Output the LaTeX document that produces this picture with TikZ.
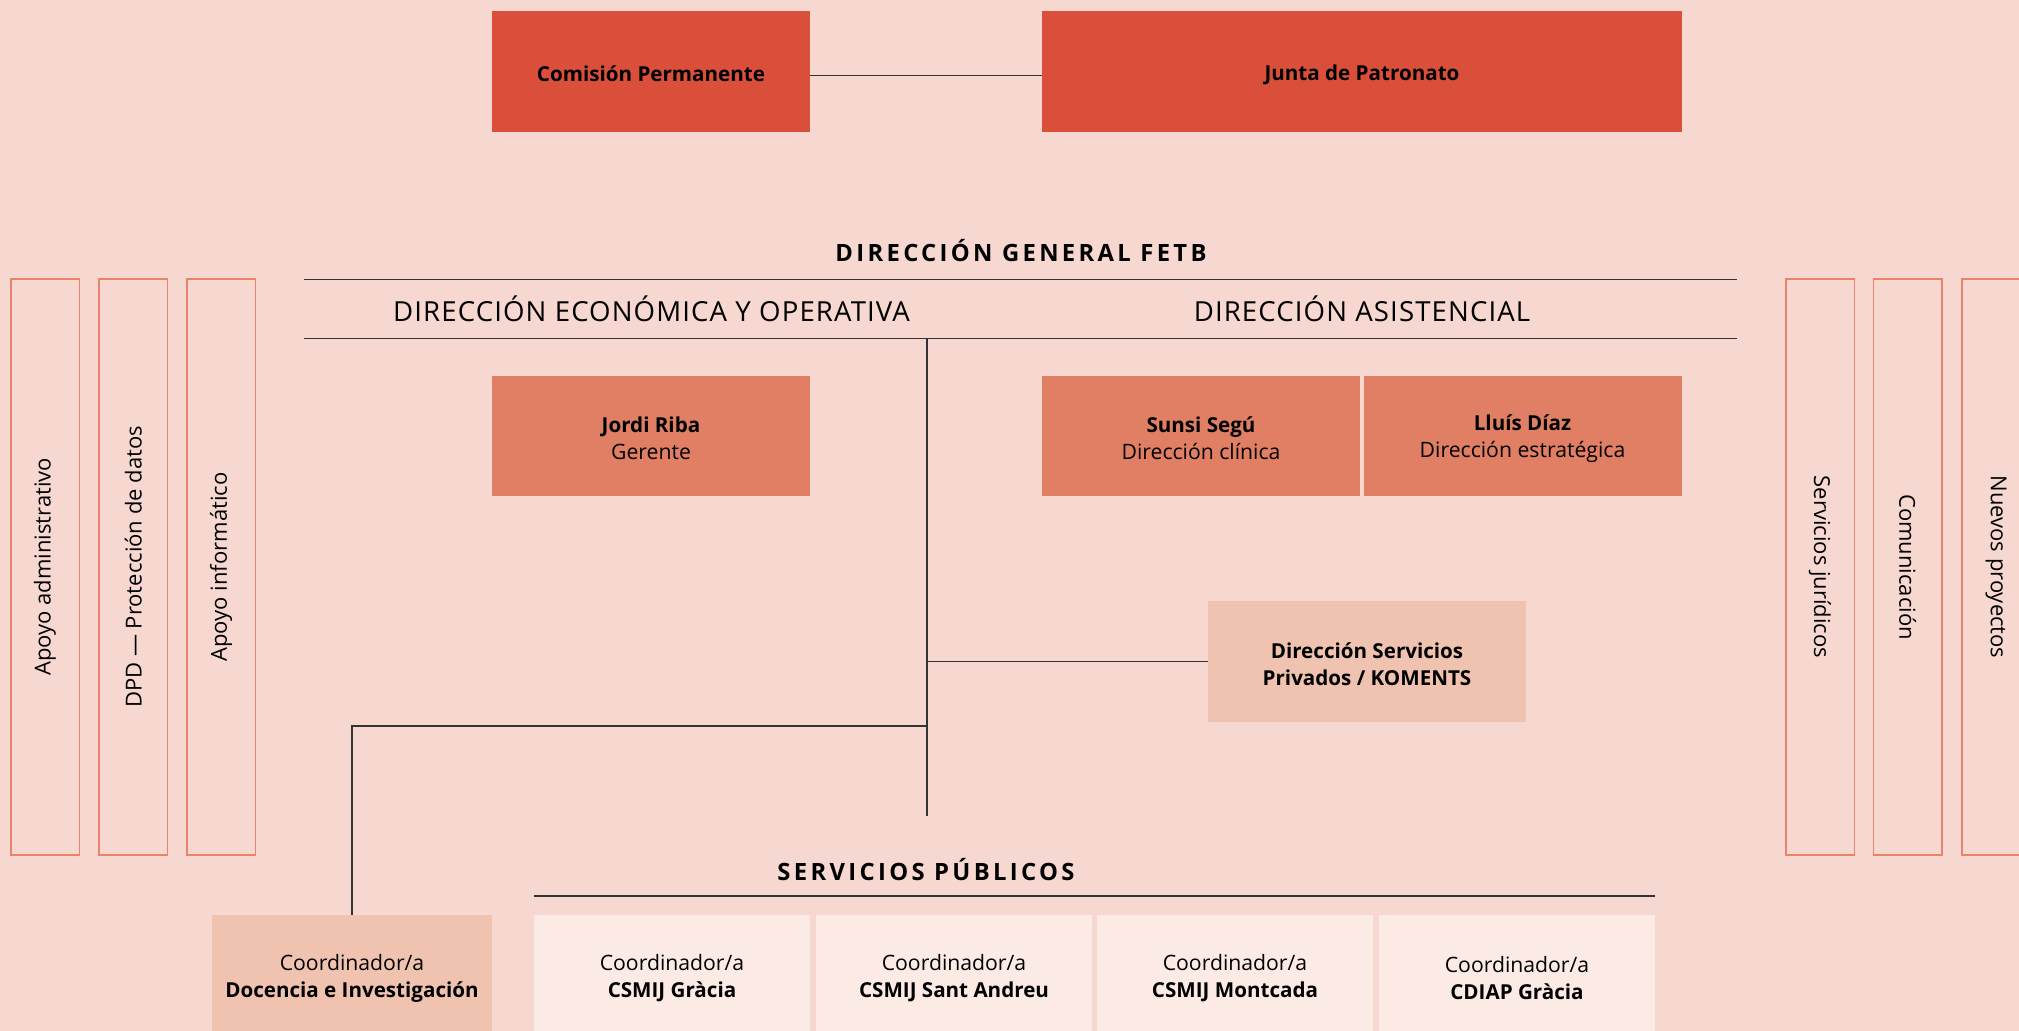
\documentclass[tikz,border=0pt]{standalone}
\usepackage{fontspec}
\setmainfont{Open Sans}
\newfontfamily\spaced[LetterSpace=4]{Open Sans}
\newfontfamily\widespaced[LetterSpace=14]{Open Sans}
\usetikzlibrary{positioning}
\definecolor{bg}{HTML}{F6D8D0}
\definecolor{topred}{HTML}{D94F39}
\definecolor{midred}{HTML}{E07F63}
\definecolor{lightred}{HTML}{F0C2B0}
\definecolor{paler}{HTML}{FCEAE4}
\definecolor{sideline}{HTML}{E8846A}
\definecolor{ink}{HTML}{333333}
\newcommand\tstrut{\rule[-0.7pt]{0pt}{11.5pt}}
\newcommand\bname[1]{{\fontsize{10.3}{13.5}\selectfont\bfseries #1}}

\begin{document}
\begin{tikzpicture}
[x=0.5pt,y=-0.5pt,
 box/.style={shape=rectangle,inner sep=0pt,align=center,
   font=\fontsize{10.6}{13.5}\selectfont},
 topbox/.style={box,fill=topred,minimum height=60.5pt},
 midbox/.style={box,fill=midred,minimum width=159pt,minimum height=60pt},
 privbox/.style={box,fill=lightred,minimum width=159pt,minimum height=60.5pt},
 coordbox/.style={box,fill=paler,minimum width=138pt,minimum height=60.5pt},
 sidebox/.style={box,draw=sideline,line width=0.7pt,minimum width=288pt,minimum height=34.2pt,
   font=\fontsize{11}{13.5}\selectfont},
 heading/.style={font=\fontsize{11.9}{14}\selectfont\widespaced\bfseries},
 subheading/.style={font=\fontsize{13.8}{16}\selectfont\spaced},
 rule/.style={draw=ink,line width=0.7pt},
 link/.style={draw=ink,line width=0.6pt}]

\fill [bg] (0,0) rectangle (2019,1031);
\useasboundingbox (0,0) rectangle (2019,1031);

\draw (651,71.5) node (cp) [topbox,minimum width=159pt] {\tstrut\bname{Comisión Permanente}};
\draw (1362,71.5) node (jp) [topbox,minimum width=320pt] {\tstrut\bname{Junta de Patronato}};
\draw [link] ([yshift=-2.2pt]cp.east) -- ([yshift=-2.2pt]jp.west);

\draw (1021,251) node (dg) [heading] {DIRECCIÓN GENERAL FETB};
\draw [rule] (304,279.5) -- (1737,279.5);
\draw (651.5,309) node (deo) [subheading] {DIRECCIÓN ECONÓMICA Y OPERATIVA};
\draw (1362,309) node (das) [subheading] {DIRECCIÓN ASISTENCIAL};
\draw [rule] (304,338.5) -- (1737,338.5);

\draw (651,436) node (jr) [midbox] {\tstrut\bname{Jordi Riba}\\\tstrut Gerente};
\draw (1201,436) node (ss) [midbox] {\tstrut\bname{Sunsi Segú}\\\tstrut Dirección clínica};
\draw (1522.5,436) node (ld) [midbox] {\tstrut\bname{Lluís Díaz}\\\tstrut Dirección estratégica};

\draw (1367,661.5) node (sp) [privbox] {\tstrut\bname{Dirección Servicios}\\\tstrut\bname{Privados / KOMENTS}};

\coordinate (spine) at (927,338.5);
\coordinate (spineend) at (927,816);
\coordinate (branch) at (927,726);
\draw [link] (spine) -- (spineend);
\draw [link] (sp.west) -- (sp.west -| spine);

\draw (352,975.5) node (doc) [box,fill=lightred,minimum width=140pt,minimum height=60.5pt]
	{\tstrut Coordinador/a\\\tstrut\bname{Docencia e Investigación}};
\draw [link] (branch) -| (doc.north);

\draw (926,870) node (sppub) [heading] {SERVICIOS PÚBLICOS};
\draw [rule] (534,896) -- (1655,896);

\draw (672,975.5) node (c1) [coordbox] {\tstrut Coordinador/a\\\tstrut\bname{CSMIJ Gràcia}};
\draw (954,975.5) node (c2) [coordbox] {\tstrut Coordinador/a\\\tstrut\bname{CSMIJ Sant Andreu}};
\draw (1235,975.5) node (c3) [coordbox] {\tstrut Coordinador/a\\\tstrut\bname{CSMIJ Montcada}};
\draw (1517,975.5) node (c4) [coordbox] {\tstrut Coordinador/a\\\tstrut\bname{CDIAP Gràcia}};

\draw (45,567) node (s1) [sidebox,rotate=90] {Apoyo administrativo};
\draw (133.3,567) node (s2) [sidebox,rotate=90] {DPD — Protección de datos};
\draw (221,567) node (s3) [sidebox,rotate=90] {Apoyo informático};
\draw (1820,567) node (s4) [sidebox,rotate=-90] {Servicios jurídicos};
\draw (1907.6,567) node (s5) [sidebox,rotate=-90] {Comunicación};
\draw (1996,567) node (s6) [sidebox,rotate=-90] {Nuevos proyectos};
\end{tikzpicture}
\end{document}
